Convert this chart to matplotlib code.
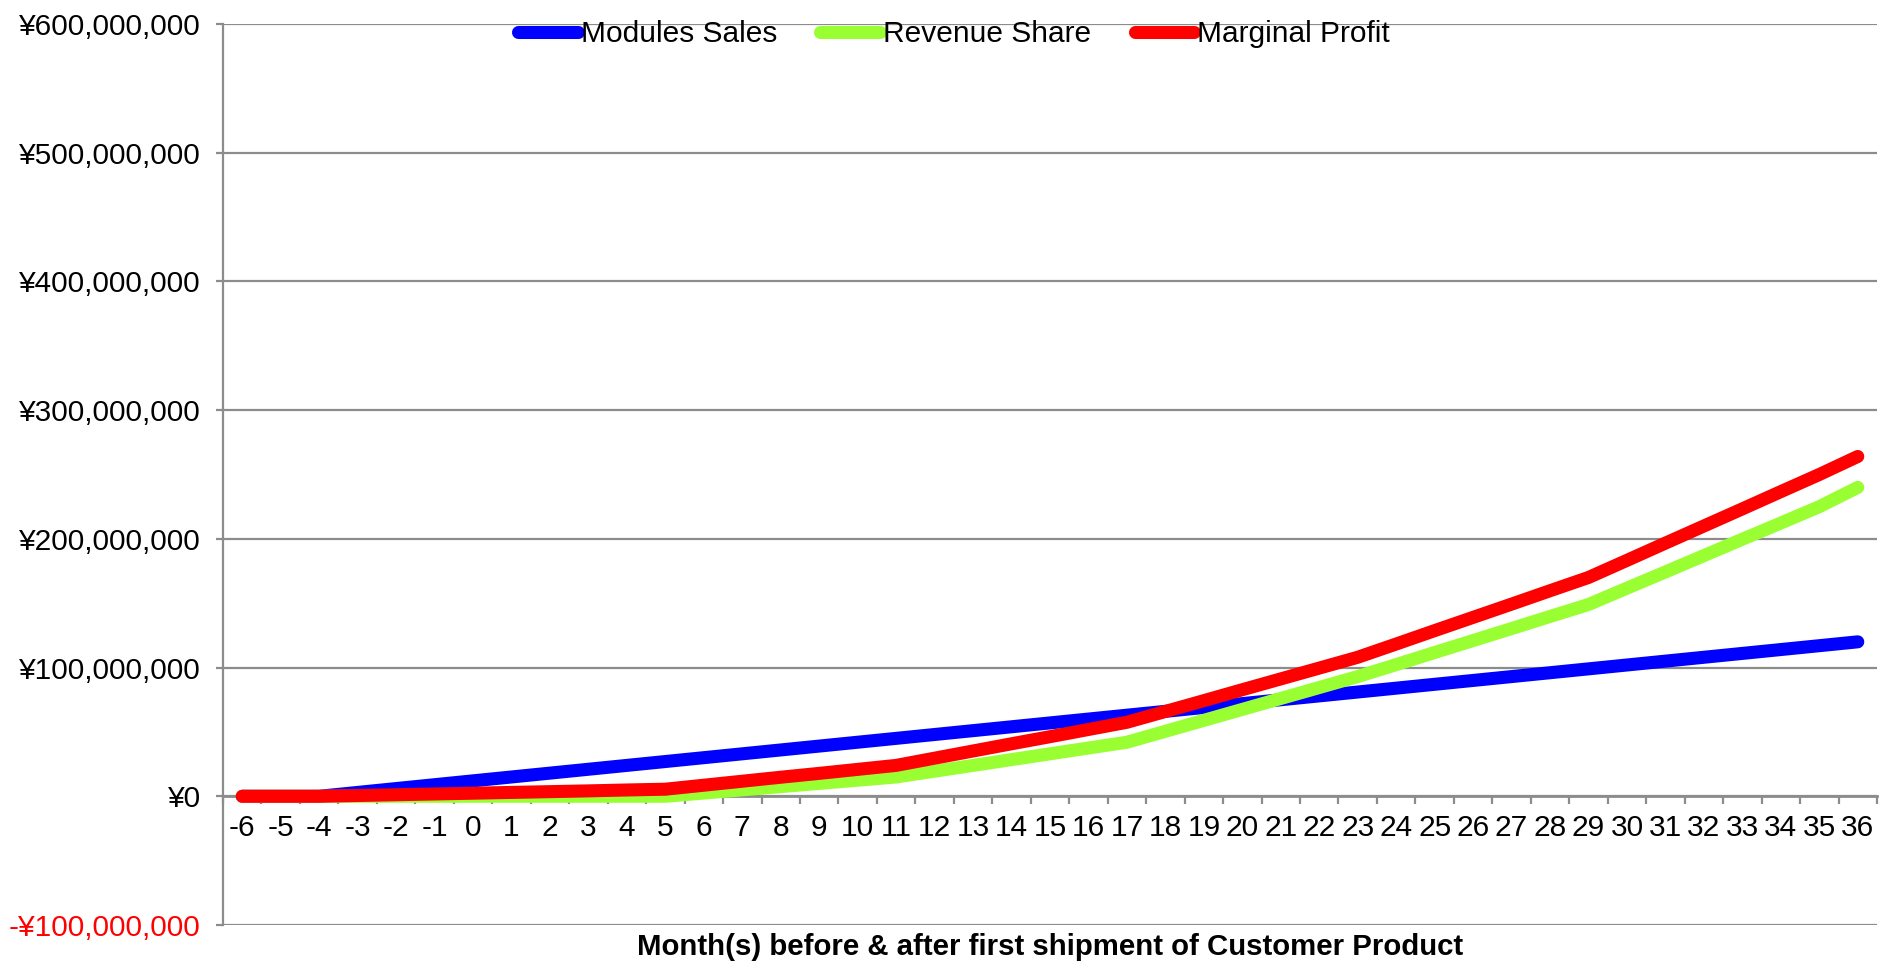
import matplotlib
matplotlib.use("Agg")
import matplotlib.pyplot as plt
from matplotlib.ticker import FixedLocator, FuncFormatter
from matplotlib.lines import Line2D

plt.rcParams['font.family'] = ['Liberation Sans', 'DejaVu Sans']

months = list(range(-6, 37))
month_labels = [str(m) for m in months]

# values in millions of yen
modules_sales_m = [0, 0, 0, 3, 6, 9, 12, 15, 18, 21, 24, 27, 30, 33, 36, 39, 42, 45,
                   48, 51, 54, 57, 60, 63, 66, 69, 72, 75, 78, 81, 84, 87, 90, 93, 96,
                   99, 102, 105, 108, 111, 114, 117, 120]
revenue_share_m = [0, 0, 0, 0, 0, 0, 0, 0, 0, 0, 0, 0, 2.5, 5, 7.5, 10, 12.5, 15,
                   19.5, 24, 28.5, 33, 37.5, 42, 50.5, 59, 67.5, 76, 84.5, 93, 102.3,
                   111.7, 121, 130.3, 139.7, 149, 161.7, 174.3, 187, 199.7, 212.3, 225, 240]
marginal_profit_m = [0, 0, 0, 0.6, 1.2, 1.8, 2.4, 3.0, 3.6, 4.2, 4.9, 5.5, 8.6, 11.7,
                     14.8, 17.8, 20.9, 24, 29.6, 35.2, 40.8, 46.3, 51.9, 57.5, 65.9, 74.3,
                     82.8, 91.2, 99.6, 108, 118.3, 128.7, 139, 149.3, 159.7, 170, 183.3,
                     196.7, 210, 223.3, 236.7, 250, 264]

series_names = ["Modules Sales", "Revenue Share", "Marginal Profit"]
series_colors = ["#0000FF", "#99FF33", "#FF0000"]
series_values = [modules_sales_m, revenue_share_m, marginal_profit_m]

y_ticks = [-100e6, 0, 100e6, 200e6, 300e6, 400e6, 500e6, 600e6]
x_title = "Month(s) before & after first shipment of Customer Product"

fs = 21.5

W, H = 1881, 963
fig = plt.figure(figsize=(W / 100, H / 100), dpi=100)
left, right, top, bottom = 223, 1877, 24, 925
ax = fig.add_axes([left / W, 1 - bottom / H, (right - left) / W, (bottom - top) / H])

grid_color = "#8C8C8C"
LW = 9.4
xpos = list(range(len(months)))
for name, color, vals in zip(series_names, series_colors, series_values):
    ax.plot(xpos, [v * 1e6 for v in vals], color=color, lw=LW,
            solid_capstyle='round', solid_joinstyle='round', label=name, zorder=3)

ax.set_xlim(-0.5, len(months) - 0.5)
ax.set_ylim(y_ticks[0], y_ticks[-1])

ax.yaxis.set_major_locator(FixedLocator(y_ticks))
def fmt(v, pos):
    v = int(round(v))
    if v < 0:
        return "-¥{:,}".format(-v)
    return "¥{:,}".format(v)
ax.yaxis.set_major_formatter(FuncFormatter(fmt))
ax.grid(axis='y', color=grid_color, lw=1.6, zorder=1)
ax.set_axisbelow(True)

ax.set_xticks(xpos)
ax.set_xticklabels(month_labels)
ax.set_xticks([i - 0.5 for i in range(len(months) + 1)], minor=True)

for s in ['top', 'right']:
    ax.spines[s].set_visible(False)
ax.spines['left'].set_color(grid_color)
ax.spines['left'].set_linewidth(1.6)
ax.spines['bottom'].set_position(('data', 0))
ax.spines['bottom'].set_color(grid_color)
ax.spines['bottom'].set_linewidth(2.0)

ax.tick_params(axis='x', which='major', length=0, pad=12.5, labelsize=fs)
ax.tick_params(axis='x', which='minor', length=6, width=1.6, color=grid_color, direction='out')
ax.tick_params(axis='y', which='major', length=5, width=1.6, color=grid_color,
               pad=11, labelsize=fs)

for lbl, t in zip(ax.get_yticklabels(), y_ticks):
    if t < 0:
        lbl.set_color("#FF0000")

fig.text((left + right) / 2 / W, 1 - 947 / H, x_title, ha='center', va='center',
         fontsize=21.2, fontweight='bold')

handles = [Line2D([0], [0], color=c, lw=LW, solid_capstyle='round') for c in series_colors]
leg = fig.legend(handles, series_names, loc='center', bbox_to_anchor=(954 / W, 1 - 34 / H),
                 ncol=3, frameon=False, fontsize=fs, handlelength=2.0, handletextpad=0.1,
                 columnspacing=1.45, borderpad=0, borderaxespad=0)

fig.savefig("out.png", dpi=100, facecolor='white')
